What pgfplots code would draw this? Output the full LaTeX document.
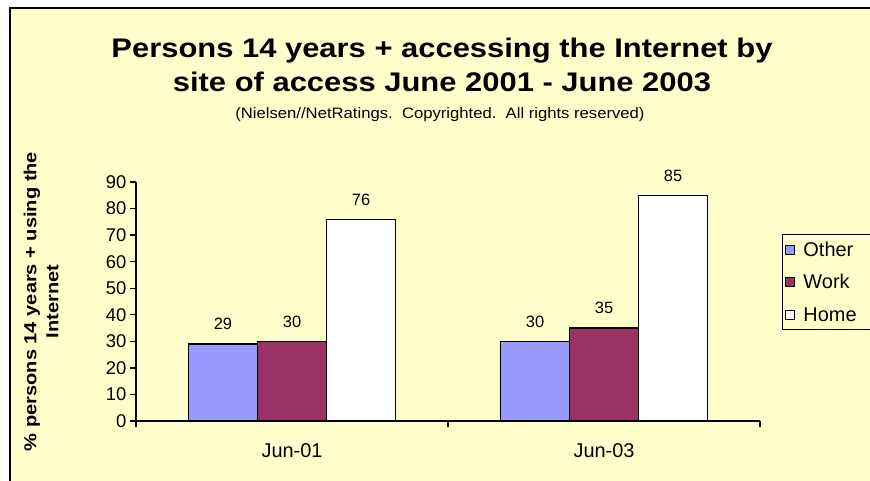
\documentclass[border=0pt]{standalone}
\usepackage{pgfplots}
\pgfplotsset{compat=1.18}
\usepackage{fontspec}
\setmainfont{Liberation Sans}
\newfontfamily\widefont{Liberation Sans}[FakeStretch=1.15]
\newfontfamily\widereg{Liberation Sans}[FakeStretch=1.1]
\definecolor{bg}{HTML}{FFFFCC}
\definecolor{other}{HTML}{9999FF}
\definecolor{work}{HTML}{993366}
\begin{document}
\begin{tikzpicture}
\useasboundingbox (0,0) rectangle (870bp,481bp);
\clip (0,0) rectangle (870bp,481bp);
\fill[white] (0,0) rectangle (870bp,481bp);
\fill[bg] (10bp,-10bp) rectangle (890bp,473bp);
\draw[line width=2bp] (10bp,-10bp) -- (10bp,473bp) -- (890bp,473bp);
\node[font=\widefont\bfseries\fontsize{27}{34}\selectfont, align=center, anchor=center] at (442bp,416bp)
  {Persons 14 years + accessing the Internet by\\site of access June 2001 - June 2003};
\node[font=\widereg\fontsize{15.2}{18}\selectfont, anchor=center] at (440bp,366bp)
  {(Nielsen//NetRatings.\ \ Copyrighted.\ \ All rights reserved)};
\begin{axis}[
  scale only axis,
  width=624bp, height=239bp,
  at={(136bp,60bp)}, anchor=south west,
  xmin=0.5, xmax=2.5, ymin=0, ymax=90,
  axis x line*=bottom, axis y line*=left,
  axis line style={-, line width=1.5bp},
  ytick={0,10,...,90},
  xtick={0.5,1.5,2.5}, xticklabels={},
  extra x ticks={1,2}, extra x tick labels={Jun-01,Jun-03},
  extra x tick style={major tick length=0pt, tick style={draw=none}},
  tick align=outside, major tick length=6bp,
  tick style={black, line width=1.3bp},
  yticklabel style={font=\fontsize{18.5}{18.5}\selectfont},
  xticklabel style={font=\fontsize{20}{20}\selectfont, yshift=-19bp},
  /pgf/number format/assume math mode=true,
  ybar=0pt, bar width=69bp,
  nodes near coords,
  every node near coord/.append style={font=\fontsize{16.5}{16.5}\selectfont, yshift=10bp, black},
  ylabel={\% persons 14 years + using the\\Internet},
  ylabel style={at={(axis description cs:-0.152,0.5)}, anchor=center, align=center,
    font=\widefont\bfseries\fontsize{17.5}{22}\selectfont},
  legend style={at={(rel axis cs:1.035,0.782)}, anchor=north west, draw=black, line width=1bp,
    fill=bg, font=\fontsize{20}{20}\selectfont, row sep=13bp, inner xsep=3bp, inner ysep=5bp,
    /tikz/every even column/.append style={text width=62bp}},
  legend cell align=left,
  legend image code/.code={\draw[#1, line width=1bp] (0bp,-4.5bp) rectangle (9bp,4.5bp); \path (15bp,0bp);},
]
\addplot[fill=other, draw=black, line width=1.3bp] coordinates {(1,29) (2,30)};
\addplot[fill=work, draw=black, line width=1.3bp] coordinates {(1,30) (2,35)};
\addplot[fill=white, draw=black, line width=1.3bp] coordinates {(1,76) (2,85)};
\legend{Other,Work,Home}
\end{axis}
\end{tikzpicture}
\end{document}
